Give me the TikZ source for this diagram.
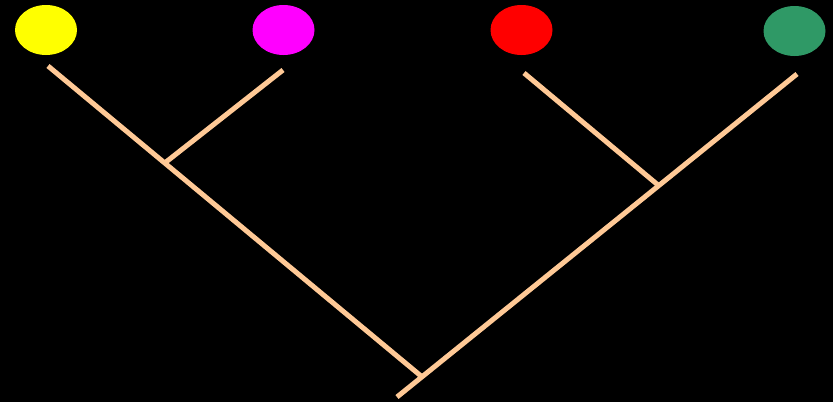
\documentclass[tikz,border=0pt]{standalone}
\usepackage{tikz}
\usepackage{xcolor}
\usetikzlibrary{shapes.geometric}
\definecolor{branch}{HTML}{FFC996}
\definecolor{leafyellow}{HTML}{FFFF00}
\definecolor{leafmagenta}{HTML}{FF00FF}
\definecolor{leafred}{HTML}{FF0000}
\definecolor{leafgreen}{HTML}{2F9966}

\begin{document}
\begin{tikzpicture}[x = 1pt, y = -1pt,
    branchline/.style = {branch, line width = 5pt},
    leaf/.style = {ellipse, minimum width = 62pt, minimum height = 50pt, inner sep = 0pt}]
  \fill[black] (0, 0) rectangle (833, 402);
  \node[leaf, fill = leafyellow] (yel) at (46, 30) {};
  \node[leaf, fill = leafmagenta] (mag) at (283.5, 30) {};
  \node[leaf, fill = leafred] (rd) at (521.5, 30) {};
  \node[leaf, fill = leafgreen] (grn) at (794.5, 31) {};
  \coordinate (yelTip) at (48, 66);
  \coordinate (magTip) at (283, 70);
  \coordinate (rdTip) at (524, 73);
  \coordinate (grnTip) at (797, 74);
  \coordinate (ymJoin) at (166, 162);
  \coordinate (rgJoin) at (658, 185);
  \coordinate (root) at (421, 376);
  \coordinate (stem) at (397, 397);
  \draw[branchline] (yelTip) -- (root);
  \draw[branchline] (magTip) -- (ymJoin);
  \draw[branchline] (rdTip) -- (rgJoin);
  \draw[branchline] (grnTip) -- (stem);
\end{tikzpicture}
\end{document}
